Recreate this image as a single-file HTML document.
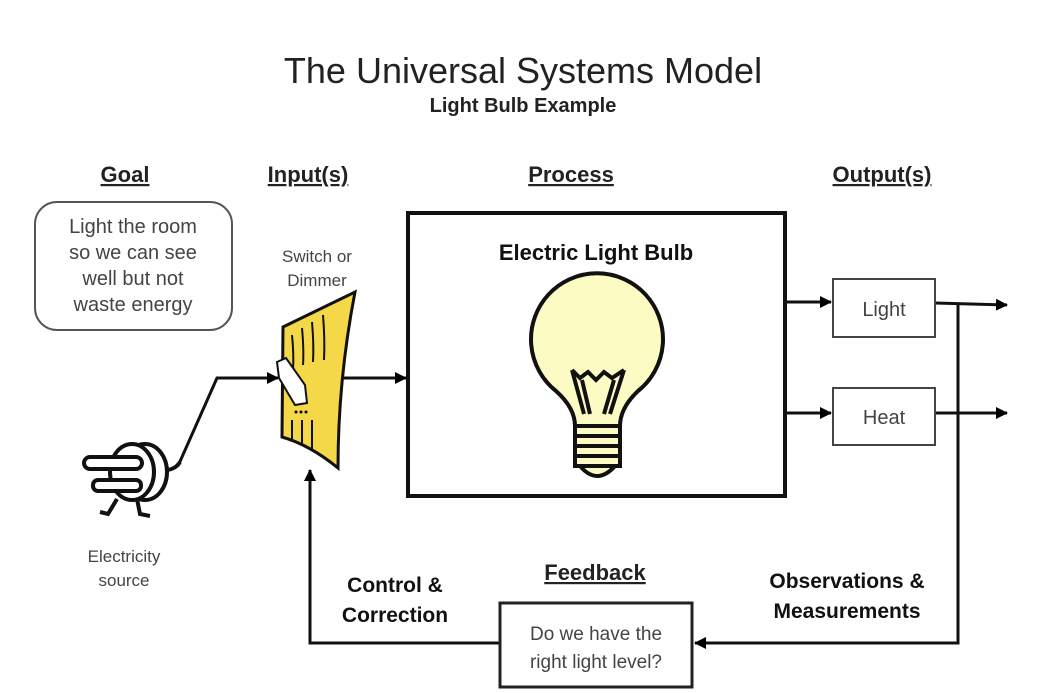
<!DOCTYPE html>
<html><head><meta charset="utf-8"><style>
html,body{margin:0;padding:0;background:#fff;}
svg{display:block;}
text{font-family:"Liberation Sans",sans-serif;}
</style></head><body>
<svg width="1052" height="693" viewBox="0 0 1052 693" xmlns="http://www.w3.org/2000/svg">
<defs>
<marker id="ah" markerWidth="12" markerHeight="12" refX="11" refY="6" orient="auto" markerUnits="userSpaceOnUse">
<path d="M0,0 L12,6 L0,12 Z" fill="#000"/></marker>
</defs>
<rect width="1052" height="693" fill="#fff"/>
<text x="523" y="83" font-size="36" text-anchor="middle" fill="#222">The Universal Systems Model</text>
<text x="523" y="112" font-size="20" font-weight="bold" text-anchor="middle" fill="#222">Light Bulb Example</text>

<g font-size="22" font-weight="bold" text-anchor="middle" fill="#222" text-decoration="underline">
<text x="125" y="182">Goal</text>
<text x="308" y="182">Input(s)</text>
<text x="571" y="182">Process</text>
<text x="882" y="182">Output(s)</text>
<text x="595" y="580">Feedback</text>
</g>

<rect x="35" y="202" width="197" height="128" rx="22" fill="#fff" stroke="#555" stroke-width="2"/>
<g font-size="20" text-anchor="middle" fill="#444">
<text x="133" y="233">Light the room</text>
<text x="133" y="259">so we can see</text>
<text x="133" y="285">well but not</text>
<text x="133" y="311">waste energy</text>
</g>
<g font-size="17" text-anchor="middle" fill="#444">
<text x="317" y="262">Switch or</text>
<text x="317" y="286">Dimmer</text>
<text x="124" y="562">Electricity</text>
<text x="124" y="586">source</text>
</g>

<!-- switch -->
<path d="M283,327 L355,292 Q338,380 338,468 Q310,445 282,437 Z" fill="#f5d848" stroke="#111" stroke-width="3"/>
<g stroke="#111" stroke-width="2" fill="none">
<path d="M292,335 Q294,355 293,370"/><path d="M302,328 Q304,350 303,365"/><path d="M312,322 Q314,345 313,362"/><path d="M323,315 Q325,340 324,360"/>
<path d="M292,420 L292,440"/><path d="M302,420 L302,445"/><path d="M312,420 L312,450"/>
</g>
<path d="M277,362 L286,358 L305,385 L307,403 L295,405 L279,378 Z" fill="#fff" stroke="#111" stroke-width="2"/>
<circle cx="296" cy="412" r="1.5"/><circle cx="301" cy="412" r="1.5"/><circle cx="306" cy="412" r="1.5"/>

<!-- plug -->
<g stroke="#111" stroke-width="4" fill="#fff">
<ellipse cx="145" cy="472" rx="22" ry="28"/>
<ellipse cx="132" cy="472" rx="22" ry="28"/>
<rect x="84" y="457" width="58" height="12" rx="6"/>
<rect x="93" y="480" width="48" height="11" rx="5"/>
</g>
<g stroke="#111" stroke-width="4" fill="none">
<path d="M117,499 L108,514 L100,512"/><path d="M137,499 L140,514 L150,516"/>
<path d="M165,470 Q175,470 180,462"/>
</g>

<!-- connectors -->
<g stroke="#111" stroke-width="3" fill="none">
<polyline points="178,466 217,378 278,378" marker-end="url(#ah)"/>
<line x1="342" y1="378" x2="406" y2="378" marker-end="url(#ah)"/>
<line x1="785" y1="302" x2="831" y2="302" marker-end="url(#ah)"/>
<line x1="785" y1="413" x2="831" y2="413" marker-end="url(#ah)"/>
<line x1="935" y1="303" x2="1007" y2="305" marker-end="url(#ah)"/>
<line x1="935" y1="413" x2="1007" y2="413" marker-end="url(#ah)"/>
<polyline points="958,305 958,643 695,643" marker-end="url(#ah)"/>
<polyline points="500,643 310,643 310,470" marker-end="url(#ah)"/>
</g>

<rect x="408" y="213" width="377" height="283" fill="#fff" stroke="#111" stroke-width="4"/>
<text x="596" y="260" font-size="22" font-weight="bold" text-anchor="middle" fill="#111">Electric Light Bulb</text>

<!-- bulb -->
<g transform="translate(0,8)">
<path d="M575,418 Q575,400 556,383 A66,66 0 1 1 638,383 Q620,400 620,418 Z" fill="#fdfbc4" stroke="#111" stroke-width="4"/>
<rect x="575" y="418" width="45" height="40" fill="#fdfbc4" stroke="#111" stroke-width="4"/>
<path d="M580,458 Q597,478 615,458 Z" fill="#fdfbc4" stroke="#111" stroke-width="4"/>
<g stroke="#111" stroke-width="4">
<line x1="575" y1="428" x2="620" y2="428"/><line x1="575" y1="438" x2="620" y2="438"/><line x1="575" y1="448" x2="620" y2="448"/>
</g>
<g stroke="#111" stroke-width="4" fill="none">
<path d="M572,362 L584,406"/><path d="M624,362 L610,406"/>
<path d="M572,362 L580,370 L588,364 L596,372 L604,364 L612,370 L624,362"/>
<path d="M582,372 L590,406"/><path d="M614,372 L604,406"/>
</g>
</g>

<rect x="833" y="279" width="102" height="58" fill="#fff" stroke="#444" stroke-width="2"/>
<rect x="833" y="388" width="102" height="57" fill="#fff" stroke="#444" stroke-width="2"/>
<text x="884" y="316" font-size="20" text-anchor="middle" fill="#444">Light</text>
<text x="884" y="424" font-size="20" text-anchor="middle" fill="#444">Heat</text>

<rect x="500" y="603" width="192" height="84" fill="#fff" stroke="#222" stroke-width="3"/>
<text x="596" y="640" font-size="19" text-anchor="middle" fill="#444">Do we have the</text>
<text x="596" y="668" font-size="19" text-anchor="middle" fill="#444">right light level?</text>

<g font-size="21" font-weight="bold" text-anchor="middle" fill="#111">
<text x="395" y="592">Control &amp;</text>
<text x="395" y="622">Correction</text>
<text x="847" y="588">Observations &amp;</text>
<text x="847" y="618">Measurements</text>
</g>
</svg>
</body></html>
